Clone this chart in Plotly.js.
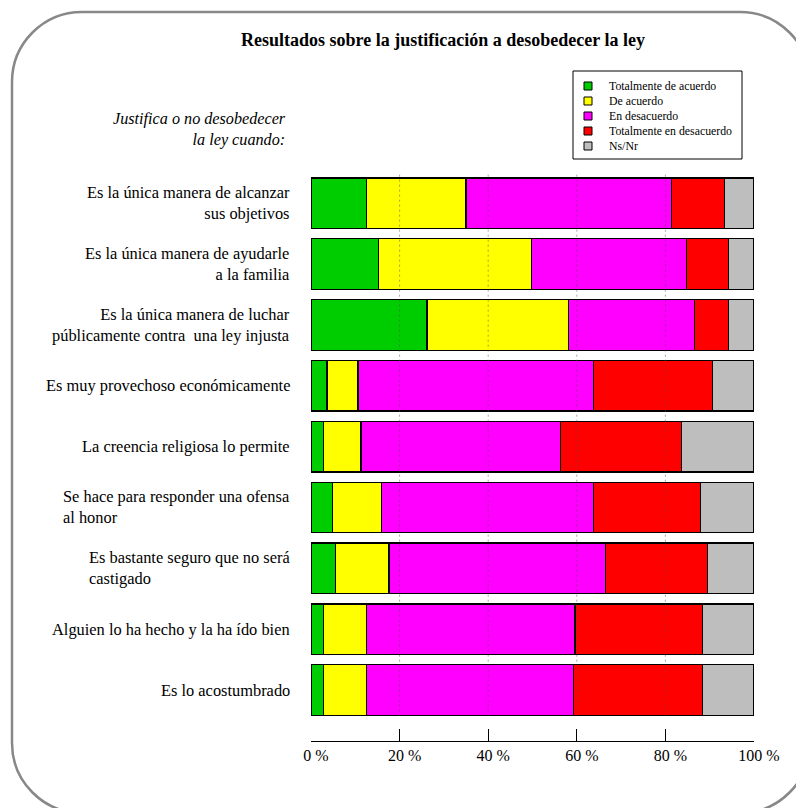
<!DOCTYPE html>
<html>
<head>
<meta charset="utf-8">
<script src="https://cdn.plot.ly/plotly-3.0.1.min.js"></script>
<style>html,body{margin:0;padding:0;background:#fff;}#chart{width:796px;height:808px;}</style>
</head>
<body>
<div id="chart"></div>
<script>
// ---- Data ----
const categories = [
  "Es la única manera de alcanzar<br>sus objetivos",
  "Es la única manera de ayudarle<br>a la familia",
  "Es la única manera de luchar<br>públicamente contra  una ley injusta",
  "Es muy provechoso económicamente",
  "La creencia religiosa lo permite",
  "Se hace para responder una ofensa<br>al honor",
  "Es bastante seguro que no será<br>castigado",
  "Alguien lo ha hecho y la ha ído bien",
  "Es lo acostumbrado"
];
const labelAlign = ["right","right","right","right","right","left","left","right","right"];
const seriesNames = ["Totalmente de acuerdo","De acuerdo","En desacuerdo","Totalmente en desacuerdo","Ns/Nr"];
const totAcuerdo    = [12.5, 15.3, 26.2,  3.6,  2.8,  4.8,  5.5,  2.8,  2.8];
const deAcuerdo     = [22.5, 34.5, 31.9,  7.0,  8.5, 11.2, 12.1,  9.7,  9.7];
const enDesacuerdo  = [46.3, 35.0, 28.4, 53.2, 45.1, 47.8, 48.9, 47.1, 46.7];
const totDesacuerdo = [12.1,  9.4,  7.7, 26.9, 27.3, 24.2, 23.0, 28.8, 29.2];
const nsnr          = [ 6.6,  5.8,  5.8,  9.3, 16.3, 12.0, 10.5, 11.6, 11.6];
const tickVals = [0, 20, 40, 60, 80, 100];
const tickText = ["0 %", "20 %", "40 %", "60 %", "80 %", "100 %"];
const gridVals = [20, 40, 60, 80];
const colors = ["#00CD00", "#FFFF00", "#FF00FF", "#FF0000", "#BEBEBE"];

// ---- Layout geometry ----
const W = 796, H = 808, L = 311, R = 42, T = 170, B = 67;
const PW = W - L - R, PH = H - T - B;
const px2x = p => (p - L) / PW;
const px2y = p => (H - B - p) / PH;
const FONT = "Liberation Serif, Times New Roman, serif";

const seriesVals = [totAcuerdo, deAcuerdo, enDesacuerdo, totDesacuerdo, nsnr];
const yIdx = categories.map((_, i) => i);

const traces = seriesVals.map((vals, k) => ({
  type: "bar", orientation: "h",
  x: vals, y: yIdx, width: 0.83,
  name: seriesNames[k], showlegend: false,
  marker: {color: colors[k], line: {color: "black", width: 1.2}},
  hoverinfo: "x+name"
}));

// rounded border path in paper coords
function roundedRect(x0, y0, x1, y1, r) {
  const k = 0.5523 * r;
  const P = (x, y) => px2x(x).toFixed(5) + "," + px2y(y).toFixed(5);
  return "M" + P(x0 + r, y0) +
    " L" + P(x1 - r, y0) +
    " C" + P(x1 - r + k, y0) + " " + P(x1, y0 + r - k) + " " + P(x1, y0 + r) +
    " L" + P(x1, y1 - r) +
    " C" + P(x1, y1 - r + k) + " " + P(x1 - r + k, y1) + " " + P(x1 - r, y1) +
    " L" + P(x0 + r, y1) +
    " C" + P(x0 + r - k, y1) + " " + P(x0, y1 - r + k) + " " + P(x0, y1 - r) +
    " L" + P(x0, y0 + r) +
    " C" + P(x0, y0 + r - k) + " " + P(x0 + r - k, y0) + " " + P(x0 + r, y0) + " Z";
}

const shapes = [{
  type: "path", xref: "paper", yref: "paper", layer: "below",
  path: roundedRect(12, 12, 810, 813, 70),
  line: {color: "#888888", width: 2.5}
}];
gridVals.forEach(v => shapes.push({
  type: "line", xref: "x", yref: "y", layer: "above",
  x0: v, x1: v, y0: -0.47, y1: 8.42,
  line: {color: "rgba(80,80,80,0.5)", width: 1, dash: "2px,3px"}
}));

// legend box (drawn manually to match compact R legend)
const legX0 = 573, legX1 = 742, legY0 = 71, legY1 = 159;
const legRow0 = 86, legStep = 15, legSym = 588, legText = 607;
shapes.push({
  type: "rect", xref: "paper", yref: "paper", layer: "above",
  x0: px2x(legX0), x1: px2x(legX1), y0: px2y(legY1), y1: px2y(legY0),
  line: {color: "black", width: 1}, fillcolor: "white"
});

const annotations = categories.map((c, i) => ({
  xref: "paper", yref: "y", x: px2x(292), y: i,
  xanchor: "right", yanchor: "middle", align: labelAlign[i],
  text: c, showarrow: false,
  font: {family: FONT, size: 16.4, color: "black"}
}));
annotations.push({
  xref: "paper", yref: "paper", x: px2x(288), y: px2y(130),
  xanchor: "right", yanchor: "middle", align: "right",
  text: "<i>Justifica o no desobedecer<br>la ley cuando:</i>", showarrow: false,
  font: {family: FONT, size: 16.2, color: "black"}
});
seriesNames.forEach((n, k) => {
  const cy = legRow0 + k * legStep;
  shapes.push({
    type: "rect", xref: "paper", yref: "paper", layer: "above",
    x0: px2x(legSym - 4), x1: px2x(legSym + 4), y0: px2y(cy + 4), y1: px2y(cy - 4),
    line: {color: "black", width: 1}, fillcolor: colors[k]
  });
  annotations.push({
    xref: "paper", yref: "paper", x: px2x(legText), y: px2y(cy),
    xanchor: "left", yanchor: "middle", text: n, showarrow: false,
    font: {family: FONT, size: 11.8, color: "black"}
  });
});

const layout = {
  width: W, height: H,
  margin: {l: L, r: R, t: T, b: B, pad: 0},
  paper_bgcolor: "white", plot_bgcolor: "white",
  font: {family: FONT, color: "black"},
  title: {
    text: "<b>Resultados sobre la justificación a desobedecer la ley</b>",
    font: {family: FONT, size: 18, color: "black"},
    x: 443 / W, xref: "container", xanchor: "center",
    y: 1 - 40 / H, yref: "container", yanchor: "middle"
  },
  barmode: "stack",
  bargap: 0,
  xaxis: {
    range: [0, 100], tickvals: tickVals, ticktext: tickText,
    ticks: "inside", ticklen: 12, tickwidth: 1, tickcolor: "black",
    showline: true, linecolor: "black", linewidth: 1,
    showgrid: false, zeroline: false, fixedrange: true,
    tickfont: {family: FONT, size: 16, color: "black"},
    ticklabelshift: 5
  },
  yaxis: {
    range: [8.838, -0.547],
    showticklabels: false, showgrid: false, zeroline: false, showline: false,
    ticks: "", fixedrange: true
  },
  showlegend: false,
  shapes: shapes,
  annotations: annotations
};

Plotly.newPlot("chart", traces, layout, {displayModeBar: false, staticPlot: true});
</script>
</body>
</html>
